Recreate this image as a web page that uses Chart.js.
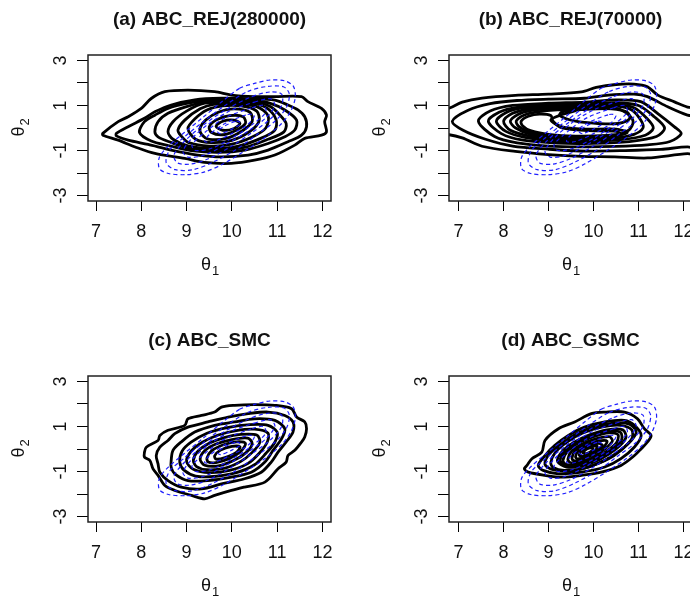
<!DOCTYPE html>
<html>
<head>
<meta charset="utf-8">
<script src="https://cdn.jsdelivr.net/npm/chart.js@4.4.1/dist/chart.umd.min.js"></script>
<style>
  body { margin: 0; background: #fff; width: 690px; height: 598px; overflow: hidden; position: relative; }
  canvas { position: absolute; }
</style>
</head>
<body>
<canvas id="pa" width="361" height="322" style="left:0;top:0"></canvas>
<canvas id="pb" width="361" height="322" style="left:361px;top:0"></canvas>
<canvas id="pc" width="361" height="322" style="left:0;top:321px"></canvas>
<canvas id="pd" width="361" height="322" style="left:361px;top:321px"></canvas>
<script>
// axis labels
var xTickLabels = [7, 8, 9, 10, 11, 12];
var yTickLabels = [-3, -1, 1, 3];
var panelTitles = ['(a) ABC_REJ(280000)', '(b) ABC_REJ(70000)', '(c) ABC_SMC', '(d) ABC_GSMC'];

// true posterior contours (blue dashed), same in every panel
var true1 = [[10.17,1.76],[10.5,1.98],[10.84,2.13],[11.17,2.09],[11.36,1.85],[11.4,1.35],[11.3,0.75],[11.1,0.2],[10.75,-0.4],[10.3,-1.0],[9.8,-1.6],[9.4,-1.95],[9.0,-2.07],[8.6,-2.02],[8.4,-1.8],[8.4,-1.3],[8.6,-0.8],[8.95,-0.2],[9.35,0.45],[9.8,1.2]];
var true2 = [[10.35,1.62],[10.8,1.85],[11.15,1.82],[11.27,1.5],[11.2,0.9],[10.95,0.3],[10.55,-0.3],[10.1,-0.95],[9.6,-1.5],[9.15,-1.85],[8.75,-1.85],[8.55,-1.55],[8.62,-1.0],[8.95,-0.4],[9.35,0.25],[9.85,1.0]];
var true3 = [[10.45,1.4],[10.85,1.6],[11.1,1.5],[11.1,1.0],[10.85,0.4],[10.45,-0.2],[10.0,-0.8],[9.5,-1.35],[9.1,-1.6],[8.8,-1.55],[8.72,-1.2],[8.95,-0.6],[9.35,0.1],[9.9,0.85]];
var true4 = [[10.5,1.15],[10.85,1.3],[10.95,1.0],[10.75,0.45],[10.35,-0.15],[9.85,-0.75],[9.4,-1.2],[9.05,-1.3],[8.92,-1.05],[9.1,-0.5],[9.5,0.2],[10.0,0.8]];
var true5 = [[10.45,0.9],[10.7,1.0],[10.75,0.7],[10.45,0.15],[10.0,-0.45],[9.55,-0.9],[9.2,-1.0],[9.12,-0.75],[9.4,-0.2],[9.85,0.45]];
var true6 = [[10.35,0.6],[10.5,0.55],[10.35,0.15],[10.0,-0.25],[9.6,-0.6],[9.4,-0.6],[9.5,-0.3],[9.85,0.2]];
var true7 = [[10.1,0.3],[10.2,0.2],[10.0,-0.05],[9.75,-0.25],[9.68,-0.15],[9.85,0.1]];

// (a) ABC_REJ(280000)
var a1 = [[7.15,-0.24],[7.49,0.28],[7.71,0.5],[8.0,0.87],[8.22,1.31],[8.52,1.61],[9.03,1.68],[9.62,1.61],[9.99,1.46],[10.5,1.39],[10.95,1.39],[11.54,1.39],[11.68,1.17],[11.98,0.87],[12.09,0.57],[12.05,0.28],[12.09,-0.17],[11.98,-0.32],[11.61,-0.46],[11.39,-0.76],[10.95,-1.2],[10.5,-1.43],[9.99,-1.57],[9.4,-1.53],[8.96,-1.35],[8.3,-1.13],[7.85,-0.83],[7.49,-0.54],[7.15,-0.32]];
var a2 = [[7.45,-0.24],[7.71,0.06],[8.07,0.43],[8.3,0.72],[8.66,1.02],[9.18,1.25],[9.77,1.32],[10.36,1.3],[10.95,1.24],[11.24,1.02],[11.46,0.8],[11.61,0.5],[11.65,0.06],[11.54,-0.32],[11.24,-0.61],[10.8,-0.98],[10.36,-1.2],[9.77,-1.28],[9.25,-1.2],[8.66,-0.98],[8.15,-0.73],[7.71,-0.54],[7.45,-0.35]];
var a3 = [[7.96,-0.2],[8.07,0.28],[8.3,0.57],[8.59,0.87],[9.03,1.1],[9.5,1.24],[10.0,1.27],[10.5,1.22],[10.85,1.09],[11.17,0.8],[11.43,0.35],[11.39,-0.09],[11.17,-0.39],[10.8,-0.69],[10.29,-0.98],[9.7,-1.08],[9.1,-1.0],[8.59,-0.78],[8.22,-0.58]];
var a4 = [[8.3,-0.17],[8.37,0.28],[8.59,0.65],[9.0,0.95],[9.45,1.17],[10.0,1.2],[10.55,1.15],[10.85,0.95],[11.05,0.6],[11.2,0.2],[11.15,-0.17],[10.8,-0.5],[10.3,-0.85],[9.7,-0.98],[9.05,-0.9],[8.6,-0.6],[8.37,-0.39]];
var a5 = [[8.59,-0.17],[8.7,0.28],[9.0,0.75],[9.4,1.1],[10.0,1.13],[10.5,1.08],[10.8,0.85],[10.98,0.35],[10.95,-0.09],[10.65,-0.45],[10.15,-0.8],[9.6,-0.9],[9.05,-0.8],[8.7,-0.5]];
var a6 = [[8.81,-0.09],[8.96,0.35],[9.3,0.85],[9.6,1.05],[10.1,1.06],[10.55,0.95],[10.8,0.55],[10.75,0.0],[10.45,-0.4],[10.0,-0.72],[9.5,-0.8],[9.05,-0.65],[8.88,-0.35]];
var a7 = [[9.03,-0.02],[9.18,0.4],[9.45,0.8],[9.8,0.98],[10.2,0.98],[10.55,0.75],[10.6,0.3],[10.4,-0.15],[10.0,-0.55],[9.55,-0.65],[9.2,-0.5]];
var a8 = [[9.3,0.0],[9.42,0.35],[9.7,0.7],[10.05,0.85],[10.4,0.7],[10.45,0.3],[10.25,-0.1],[9.9,-0.45],[9.5,-0.5],[9.33,-0.28]];
var a9 = [[9.5,0.05],[9.65,0.35],[9.95,0.55],[10.25,0.5],[10.3,0.2],[10.1,-0.1],[9.8,-0.3],[9.55,-0.2]];
var a10 = [[9.65,0.08],[9.8,0.3],[10.05,0.35],[10.18,0.2],[10.05,-0.02],[9.8,-0.1]];

// (b) ABC_REJ(70000)
var b1 = [[6.5,0.85],[6.79,0.88],[7.08,1.15],[7.52,1.33],[8.26,1.45],[9.0,1.5],[9.73,1.6],[10.06,1.8],[10.5,1.93],[10.9,1.95],[11.2,1.83],[11.43,1.46],[11.8,1.16],[12.09,0.93],[12.4,0.8],[12.4,-1.2],[12.09,-1.14],[11.2,-1.33],[10.47,-1.28],[9.73,-1.26],[9.0,-1.18],[8.26,-1.04],[7.52,-0.81],[7.08,-0.44],[6.79,-0.3],[6.5,-0.3]];
var b2 = [[6.86,0.3],[7.2,0.78],[7.7,1.08],[8.3,1.22],[9.0,1.28],[9.8,1.32],[10.33,1.46],[10.9,1.5],[11.2,1.39],[11.65,0.94],[12.09,0.57],[12.4,0.45],[12.4,-0.95],[12.09,-0.84],[11.5,-0.95],[10.7,-1.0],[9.7,-1.02],[9.0,-0.94],[8.2,-0.8],[7.6,-0.5],[7.1,-0.1]];
var b3 = [[7.44,0.3],[7.7,0.75],[8.2,1.0],[9.0,1.1],[9.8,1.15],[10.5,1.25],[11.05,1.17],[11.43,0.64],[11.8,0.05],[11.95,-0.25],[11.7,-0.6],[11.2,-0.75],[10.5,-0.82],[9.7,-0.84],[9.0,-0.8],[8.3,-0.66],[7.8,-0.38]];
var b4 = [[7.66,0.3],[7.9,0.7],[8.3,0.92],[9.0,1.02],[9.8,1.07],[10.5,1.12],[11.0,1.0],[11.35,0.5],[11.58,0.0],[11.4,-0.38],[10.8,-0.6],[10.0,-0.68],[9.2,-0.67],[8.4,-0.53],[7.95,-0.25]];
var b5 = [[7.84,0.3],[8.05,0.68],[8.4,0.88],[9.0,0.97],[9.8,1.0],[10.5,1.04],[10.9,0.9],[11.2,0.4],[11.33,0.0],[11.15,-0.32],[10.6,-0.52],[9.9,-0.59],[9.2,-0.58],[8.5,-0.43],[8.05,-0.15]];
var b6 = [[8.0,0.3],[8.2,0.65],[8.5,0.82],[9.0,0.92],[9.8,0.95],[10.5,0.97],[10.85,0.8],[11.05,0.35],[11.1,0.0],[10.9,-0.28],[10.4,-0.47],[9.8,-0.52],[9.2,-0.5],[8.6,-0.37],[8.15,-0.1]];
var b7 = [[8.15,0.3],[8.32,0.6],[8.6,0.77],[9.1,0.87],[9.8,0.9],[10.45,0.9],[10.72,0.68],[10.88,0.3],[10.78,-0.1],[10.35,-0.4],[9.7,-0.46],[9.1,-0.43],[8.6,-0.28],[8.27,0.0]];
var b8 = [[8.28,0.3],[8.45,0.57],[8.75,0.72],[9.2,0.8],[9.6,0.78],[9.3,0.6],[9.05,0.35],[9.3,0.05],[9.8,-0.05],[10.5,-0.05],[10.75,-0.2],[10.4,-0.38],[9.7,-0.42],[9.1,-0.38],[8.6,-0.2],[8.35,0.05]];
var b9 = [[8.39,0.3],[8.55,0.52],[8.8,0.62],[9.05,0.55],[9.1,0.3],[9.3,0.0],[9.9,-0.12],[10.5,-0.15],[10.6,-0.25],[10.3,-0.33],[9.6,-0.36],[9.05,-0.3],[8.6,-0.12],[8.42,0.1]];
var b10 = [[9.3,0.72],[9.8,0.82],[10.4,0.85],[10.75,0.7],[10.8,0.4],[10.55,0.2],[10.1,0.2],[9.6,0.3],[9.25,0.55]];

// (c) ABC_SMC
var c1 = [[8.07,-0.14],[8.11,0.08],[8.37,0.38],[8.41,0.6],[8.59,0.83],[8.96,1.05],[9.03,1.34],[9.33,1.49],[9.62,1.64],[9.77,1.86],[10.06,1.94],[10.5,1.97],[10.95,1.94],[11.32,1.79],[11.43,1.42],[11.61,1.2],[11.65,0.9],[11.61,0.53],[11.54,0.31],[11.39,-0.06],[11.24,-0.29],[11.2,-0.58],[11.02,-0.88],[10.73,-1.47],[10.28,-1.69],[9.99,-1.84],[9.62,-2.06],[9.4,-2.21],[9.11,-2.06],[8.74,-1.84],[8.52,-1.62],[8.37,-1.17],[8.26,-0.88],[8.19,-0.51],[8.07,-0.36]];
var c2 = [[8.33,-0.29],[8.41,0.08],[8.59,0.38],[8.74,0.68],[9.03,0.97],[9.47,1.2],[9.92,1.42],[10.36,1.57],[10.8,1.64],[11.17,1.49],[11.35,1.2],[11.35,0.75],[11.2,0.31],[11.02,-0.14],[10.87,-0.58],[10.65,-1.03],[10.28,-1.32],[9.77,-1.55],[9.33,-1.77],[8.88,-1.69],[8.59,-1.4],[8.41,-1.03],[8.37,-0.66]];
var c3 = [[8.66,-0.51],[8.7,-0.06],[8.88,0.31],[9.18,0.75],[9.62,1.05],[10.06,1.2],[10.5,1.34],[10.95,1.27],[11.17,0.9],[11.1,0.46],[10.91,-0.06],[10.73,-0.58],[10.43,-1.03],[9.99,-1.25],[9.47,-1.4],[9.03,-1.4],[8.74,-1.1],[8.66,-0.81]];
var c4 = [[8.85,-0.6],[8.9,-0.1],[9.1,0.3],[9.45,0.7],[9.9,0.95],[10.4,1.08],[10.8,1.05],[11.0,0.75],[10.95,0.3],[10.75,-0.2],[10.5,-0.7],[10.1,-1.05],[9.6,-1.22],[9.2,-1.2],[8.95,-0.95]];
var c5 = [[9.0,-0.55],[9.1,-0.1],[9.35,0.3],[9.7,0.62],[10.1,0.82],[10.5,0.88],[10.8,0.7],[10.78,0.3],[10.6,-0.2],[10.35,-0.65],[9.95,-0.95],[9.5,-1.05],[9.15,-0.9]];
var c6 = [[9.15,-0.5],[9.25,-0.1],[9.5,0.25],[9.85,0.52],[10.2,0.65],[10.55,0.62],[10.62,0.3],[10.45,-0.15],[10.2,-0.55],[9.85,-0.85],[9.45,-0.92],[9.22,-0.78]];
var c7 = [[9.3,-0.45],[9.4,-0.08],[9.65,0.22],[10.0,0.42],[10.35,0.48],[10.45,0.25],[10.32,-0.15],[10.05,-0.5],[9.7,-0.75],[9.4,-0.72]];
var c8 = [[9.45,-0.4],[9.55,-0.08],[9.8,0.18],[10.1,0.32],[10.3,0.25],[10.2,-0.1],[9.95,-0.42],[9.65,-0.6],[9.48,-0.58]];
var c9 = [[9.62,-0.3],[9.75,-0.05],[10.0,0.12],[10.18,0.1],[10.1,-0.15],[9.85,-0.38],[9.65,-0.45]];

// (d) ABC_GSMC
var d1 = [[8.52,-0.73],[8.63,-0.43],[8.85,-0.14],[8.92,0.38],[9.22,0.9],[9.58,1.2],[9.95,1.57],[10.25,1.64],[10.69,1.64],[10.98,1.34],[11.13,0.9],[11.28,0.6],[11.2,0.31],[11.06,0.01],[10.91,-0.29],[10.61,-0.73],[10.17,-1.03],[9.73,-1.17],[9.29,-1.25],[8.92,-1.17],[8.55,-1.03],[8.46,-0.88]];
var d2 = [[8.77,-0.73],[8.92,-0.29],[9.14,0.16],[9.44,0.6],[9.8,0.97],[10.25,1.2],[10.69,1.27],[10.91,1.05],[11.06,0.6],[10.91,0.09],[10.61,-0.43],[10.25,-0.8],[9.73,-1.03],[9.22,-1.1],[8.88,-0.95]];
var d3 = [[8.92,-0.68],[9.02,-0.22],[9.28,0.22],[9.6,0.65],[10.0,0.98],[10.45,1.15],[10.8,1.1],[10.95,0.75],[10.78,0.25],[10.45,-0.3],[10.0,-0.72],[9.5,-0.98],[9.1,-0.92]];
var d4 = [[9.05,-0.6],[9.15,-0.15],[9.4,0.3],[9.75,0.7],[10.2,0.98],[10.6,1.05],[10.85,0.85],[10.85,0.45],[10.6,-0.05],[10.25,-0.5],[9.8,-0.85],[9.35,-0.95],[9.1,-0.82]];
var d5 = [[9.2,-0.55],[9.3,-0.12],[9.55,0.28],[9.9,0.62],[10.3,0.85],[10.65,0.85],[10.72,0.5],[10.5,0.0],[10.15,-0.45],[9.75,-0.75],[9.4,-0.8]];
var d6 = [[9.26,-0.52],[9.36,-0.11],[9.6,0.27],[9.95,0.59],[10.33,0.79],[10.6,0.74],[10.62,0.38],[10.38,-0.08],[10.05,-0.48],[9.68,-0.72],[9.4,-0.74]];
var d7 = [[9.32,-0.5],[9.42,-0.1],[9.65,0.25],[10.0,0.55],[10.35,0.72],[10.55,0.62],[10.5,0.25],[10.25,-0.15],[9.95,-0.5],[9.6,-0.7],[9.38,-0.68]];
var d8 = [[9.43,-0.45],[9.52,-0.08],[9.75,0.22],[10.05,0.45],[10.35,0.55],[10.42,0.35],[10.25,0.0],[10.0,-0.35],[9.7,-0.6],[9.48,-0.6]];
var d9 = [[9.52,-0.4],[9.6,-0.06],[9.82,0.18],[10.1,0.35],[10.3,0.35],[10.22,0.08],[10.0,-0.22],[9.75,-0.48],[9.56,-0.52]];
var d10 = [[9.6,-0.33],[9.68,-0.05],[9.88,0.14],[10.12,0.25],[10.2,0.15],[10.05,-0.1],[9.82,-0.35],[9.64,-0.44]];
var d11 = [[9.68,-0.25],[9.76,-0.03],[9.93,0.1],[10.08,0.13],[10.05,-0.03],[9.88,-0.22],[9.72,-0.33]];
var d12 = [[9.76,-0.17],[9.85,0.0],[9.98,0.04],[9.98,-0.06],[9.85,-0.2]];

var trueLevels = [true1, true2, true3, true4, true5, true6, true7];

var FONT = '"Liberation Sans", Arial, sans-serif';

// make every contour a closed smooth loop
var closeLoops = {
  id: 'closeLoops',
  afterDatasetUpdate: function(chart, args) {
    var line = args.meta.dataset;
    if (line) { line._loop = true; line._fullLoop = true; }
  }
};

function theta(ctx, sub, x, y, rot) {
  ctx.save();
  ctx.translate(x, y);
  ctx.rotate(rot);
  ctx.font = '18px ' + FONT;
  var w1 = ctx.measureText('\u03b8').width;
  ctx.font = '13px ' + FONT;
  var w2 = ctx.measureText(sub).width;
  var x0 = -(w1 + w2) / 2;
  ctx.textAlign = 'left';
  ctx.textBaseline = 'alphabetic';
  ctx.font = '18px ' + FONT;
  ctx.fillText('\u03b8', x0, 0);
  ctx.font = '13px ' + FONT;
  ctx.fillText(sub, x0 + w1 + 1, 5);
  ctx.restore();
}

// R-like box, tick labels and titles
var frame = {
  id: 'frame',
  afterDraw: function(chart, args, o) {
    var ctx = chart.ctx, a = chart.chartArea;
    var xs = chart.scales.x, ys = chart.scales.y;
    ctx.save();
    ctx.strokeStyle = '#222';
    ctx.lineWidth = 1.5;
    ctx.strokeRect(a.left, a.top, a.right - a.left, a.bottom - a.top);
    ctx.fillStyle = '#111';
    ctx.font = '18px ' + FONT;
    ctx.textAlign = 'center';
    ctx.textBaseline = 'alphabetic';
    xTickLabels.forEach(function(v) {
      ctx.fillText(String(v), xs.getPixelForValue(v), a.bottom + 36);
    });
    yTickLabels.forEach(function(v) {
      ctx.save();
      ctx.translate(a.left - 22, ys.getPixelForValue(v));
      ctx.rotate(-Math.PI / 2);
      ctx.fillText(String(v), 0, 0);
      ctx.restore();
    });
    ctx.font = 'bold 19px ' + FONT;
    ctx.fillText(o.title, (a.left + a.right) / 2, 25);
    theta(ctx, '1', (a.left + a.right) / 2, a.bottom + 69, 0);
    theta(ctx, '2', 24, (a.top + a.bottom) / 2, -Math.PI / 2);
    ctx.restore();
  }
};

function loops(list, color, width, dash) {
  return list.map(function(pts) {
    return {
      data: pts.map(function(p) { return {x: p[0], y: p[1]}; }),
      borderColor: color,
      borderWidth: width,
      borderDash: dash,
      pointRadius: 0,
      tension: 0.3,
      fill: false,
      clip: 0
    };
  });
}

function panel(id, title, xmin, lines) {
  var ds = loops(trueLevels, 'rgba(20,20,255,0.95)', 1.2, [4, 3]).concat(loops(lines, '#000', 2.8, []));
  return new Chart(document.getElementById(id), {
    type: 'line',
    data: { datasets: ds },
    options: {
      responsive: false,
      animation: false,
      capBezierPoints: false,
      layout: { padding: { left: 0, top: 55, right: 30, bottom: 0 } },
      plugins: { legend: { display: false }, tooltip: { enabled: false }, frame: { title: title } },
      scales: {
        x: {
          type: 'linear', min: xmin, max: 12.19,
          afterFit: function(s) { s.height = 121; },
          ticks: { stepSize: 1, includeBounds: false, display: false },
          grid: { drawOnChartArea: false, drawTicks: true, tickLength: 10, color: '#000', lineWidth: 1 },
          border: { display: false }
        },
        y: {
          type: 'linear', min: -3.24, max: 3.24,
          afterFit: function(s) { s.width = 88; },
          ticks: { stepSize: 1, includeBounds: false, display: false },
          grid: { drawOnChartArea: false, drawTicks: true, tickLength: 11, color: '#000', lineWidth: 1 },
          border: { display: false }
        }
      }
    },
    plugins: [closeLoops, frame]
  });
}

window.onload = function() {
  panel('pa', panelTitles[0], 6.823, [a1, a2, a3, a4, a5, a6, a7, a8, a9, a10]);
  panel('pb', panelTitles[1], 6.786, [b1, b2, b3, b4, b5, b6, b7, b8, b9, b10]);
  panel('pc', panelTitles[2], 6.823, [c1, c2, c3, c4, c5, c6, c7, c8, c9]);
  panel('pd', panelTitles[3], 6.786, [d1, d2, d3, d4, d5, d6, d7, d8, d9, d10, d11, d12]);
};
</script>
</body>
</html>
